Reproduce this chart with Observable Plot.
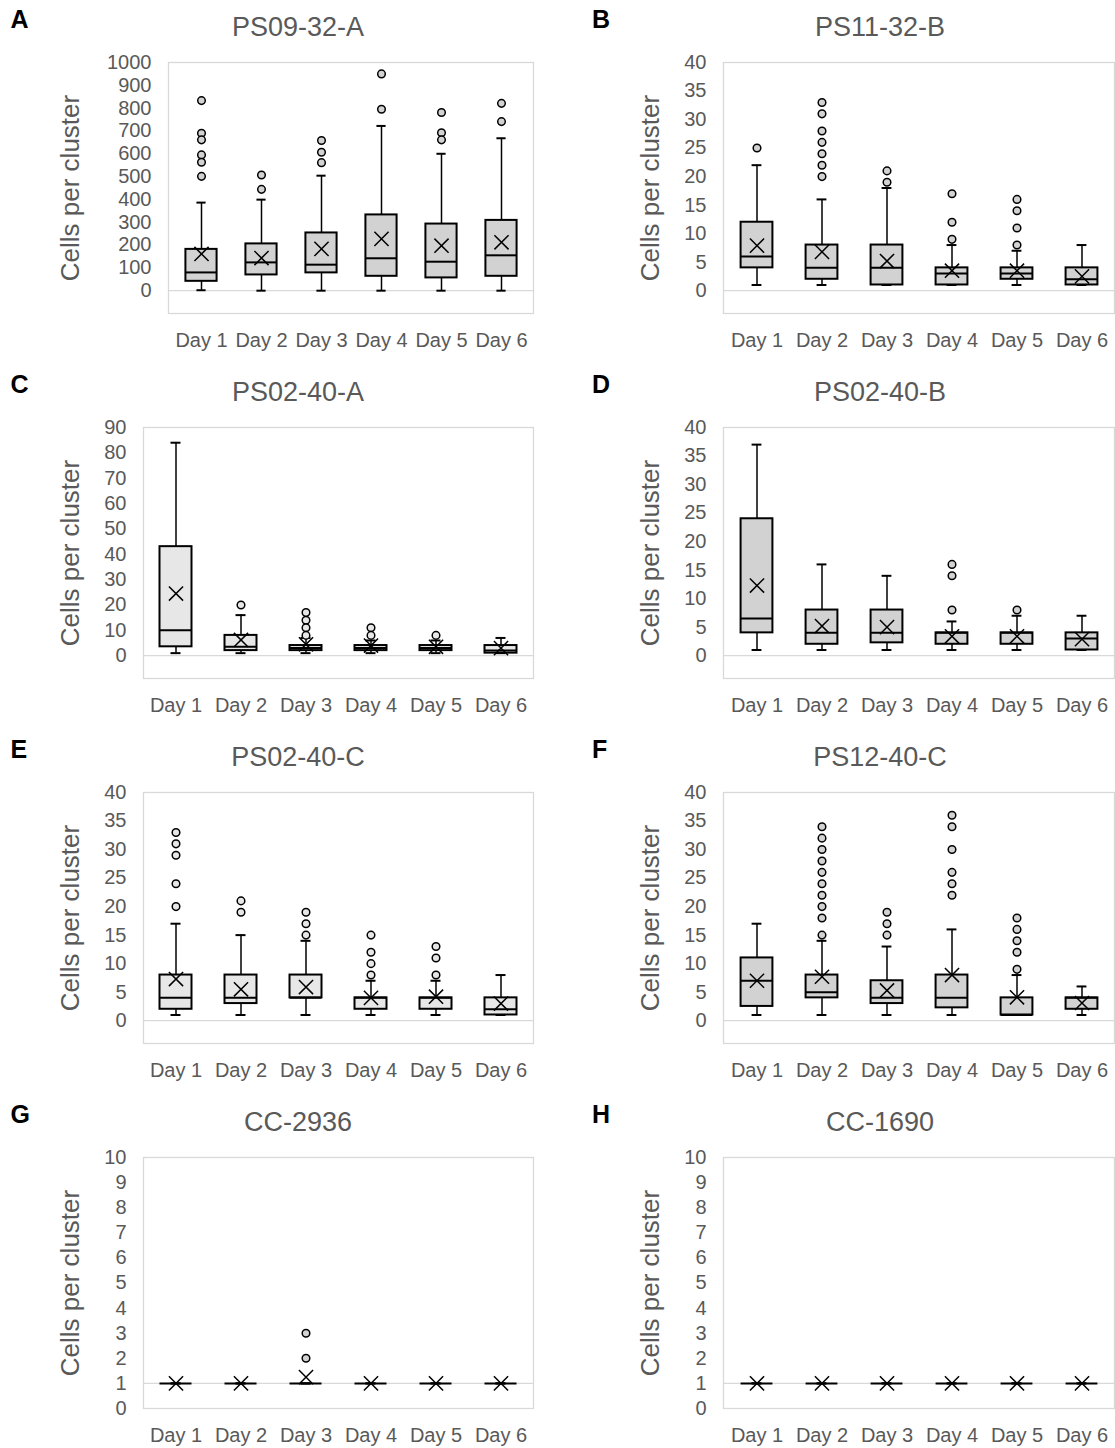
<!DOCTYPE html>
<html><head><meta charset="utf-8">
<script src="https://cdn.jsdelivr.net/npm/d3@7"></script>
<script src="https://cdn.jsdelivr.net/npm/@observablehq/plot@0.6"></script>
<style>
body{margin:0;background:#fff;}
#root{position:relative;width:1115px;height:1448px;overflow:hidden;font-family:"Liberation Sans",Arial,sans-serif;}
.letter{position:absolute;font-weight:bold;font-size:25px;color:#000;line-height:1;}
.title{position:absolute;font-size:27px;color:#595959;line-height:1;transform:translate(-50%,-50%);white-space:nowrap;}
.ylab{position:absolute;font-size:26px;color:#595959;line-height:1;transform:translate(-50%,-50%) rotate(-90deg);white-space:nowrap;}
.panel{position:absolute;}
</style></head><body><div id="root"></div>
<script>
const days = ["Day 1","Day 2","Day 3","Day 4","Day 5","Day 6"];
const panelLetters = ["A","B","C","D","E","F","G","H"];
const strains = ["PS09-32-A","PS11-32-B","PS02-40-A","PS02-40-B","PS02-40-C","PS12-40-C","CC-2936","CC-1690"];
const yLabel = "Cells per cluster";

// y-axis ranges and tick labels per panel
const yMin = [-100, -4, -9, -4, -4, -4, 0, 0];
const yMax = [1000, 40, 90, 40, 40, 40, 10, 10];
const yTicks = [
  d3.range(0, 1001, 100), d3.range(0, 41, 5), d3.range(0, 91, 10), d3.range(0, 41, 5),
  d3.range(0, 41, 5), d3.range(0, 41, 5), d3.range(0, 11, 1), d3.range(0, 11, 1)
];
const axisCross = [0, 0, 0, 0, 0, 0, 1, 1];

// box-plot statistics, one row per panel, one value per day
const whiskerLow = [
  [2, 0, 0, 0, 0, 0],
  [1, 1, 1, 1, 1, 1],
  [1, 1, 1, 1, 1, 1],
  [1, 1, 1, 1, 1, 1],
  [1, 1, 1, 1, 1, 1],
  [1, 1, 1, 1, 1, 1],
  [1, 1, 1, 1, 1, 1],
  [1, 1, 1, 1, 1, 1]
];
const q1 = [
  [41, 69, 78, 63, 56, 63],
  [4, 2, 1, 1, 2, 1],
  [3.5, 2, 2, 2, 2, 1],
  [4, 2, 2.25, 2, 2, 1],
  [2, 3, 4, 2, 2, 1],
  [2.5, 4, 3, 2.25, 1, 2],
  [1, 1, 1, 1, 1, 1],
  [1, 1, 1, 1, 1, 1]
];
const median = [
  [80, 124, 114, 142, 127, 155],
  [6, 4, 4, 3, 3, 2],
  [10, 3.5, 3, 3, 3, 2],
  [6.5, 4, 4, 4, 4, 3],
  [4, 4, 4, 4, 4, 2],
  [7, 5, 4, 4, 1, 4],
  [1, 1, 1, 1, 1, 1],
  [1, 1, 1, 1, 1, 1]
];
const q3 = [
  [181, 205, 253, 332, 292, 308],
  [12, 8, 8, 4, 4, 4],
  [43, 8, 4, 4, 4, 4],
  [24, 8, 8, 4, 4, 4],
  [8, 8, 8, 4, 4, 4],
  [11, 8, 7, 8, 4, 4],
  [1, 1, 1, 1, 1, 1],
  [1, 1, 1, 1, 1, 1]
];
const whiskerHigh = [
  [386, 399, 504, 722, 600, 668],
  [22, 16, 18, 8, 7, 8],
  [84, 16, 7, 6, 6, 7],
  [37, 16, 14, 6, 7, 7],
  [17, 15, 14, 7, 7, 8],
  [17, 14, 13, 16, 8, 6],
  [1, 1, 1, 1, 1, 1],
  [1, 1, 1, 1, 1, 1]
];
const mean = [
  [161, 143, 183, 227, 197, 212],
  [7.9, 6.8, 5.2, 3.5, 3.5, 2.5],
  [24.5, 6.2, 4.5, 4, 3.5, 3],
  [12.3, 5.2, 5, 3.4, 3.4, 2.9],
  [7.3, 5.5, 5.9, 4, 4.2, 3],
  [7, 7.7, 5.3, 8, 4.1, 3.1],
  [1, 1, 1.25, 1, 1, 1],
  [1, 1, 1, 1, 1, 1]
];
const outliers = [
  [[833, 690, 661, 595, 563, 501], [507, 444], [658, 607, 561], [950, 795], [781, 692, 661], [821, 741]],
  [[25], [33, 31, 28, 26, 24, 22, 20], [21, 19], [17, 12, 9], [16, 14, 11, 8], []],
  [[], [20], [17, 14, 11, 8], [11, 8], [8], []],
  [[], [], [], [16, 14, 8], [8], []],
  [[33, 31, 29, 24, 20], [21, 19], [19, 17, 15], [15, 12, 10, 8], [13, 11, 8], []],
  [[], [34, 32, 30, 28, 26, 24, 22, 20, 18, 15], [19, 17, 15], [36, 34, 30, 26, 24, 22], [18, 16, 14, 12, 9], []],
  [[], [], [3, 2], [], [], []],
  [[], [], [], [], [], []]
];

// styling (not data)
const lighterPanels = new Set(["C", "E"]);
const FONT = '"Liberation Sans", Arial, sans-serif';
const ROW_H = 365;

const root = document.getElementById("root");

panelLetters.forEach((letter, idx) => {
  const col = idx % 2, row = Math.floor(idx / 2);
  const oy = row * ROW_H;
  const svgLeft = col === 0 ? 0 : 557;
  const width = col === 0 ? 557 : 558;
  const marginLeft = col === 0 ? (idx === 0 ? 168 : 143) : 166;
  const marginRight = col === 0 ? 24 : 1;
  const step = (width - marginLeft - marginRight) / days.length;
  const boxInset = (step - 32) / 2;
  const capInset = (step - 10) / 2;
  const fill = lighterPanels.has(letter) ? "#e7e7e7" : "#d2d2d2";

  const rows = days.map((d, i) => ({
    day: d, lo: whiskerLow[idx][i], q1: q1[idx][i], med: median[idx][i],
    q3: q3[idx][i], hi: whiskerHigh[idx][i], mean: mean[idx][i]
  }));
  const outs = days.flatMap((d, i) => outliers[idx][i].map(v => ({day: d, v})));

  const chart = Plot.plot({
    width, height: 320,
    marginTop: 22, marginBottom: 47, marginLeft, marginRight,
    style: {fontFamily: FONT, fontSize: "20px", color: "#595959", background: "transparent", overflow: "visible"},
    x: {domain: days, padding: 0, label: null},
    y: {domain: [yMin[idx], yMax[idx]], label: null},
    marks: [
      Plot.frame({stroke: "#d9d9d9", strokeWidth: 1.3}),
      Plot.ruleY([axisCross[idx]], {stroke: "#d9d9d9", strokeWidth: 1.3}),
      Plot.axisY({ticks: yTicks[idx], tickSize: 0, tickPadding: 17, label: null, tickFormat: d => `${d}`}),
      Plot.axisX({tickSize: 0, tickPadding: 19, label: null}),
      Plot.ruleX(rows, {x: "day", y1: "lo", y2: "hi", stroke: "#000", strokeWidth: 1.5}),
      Plot.tickY(rows, {x: "day", y: "lo", insetLeft: capInset, insetRight: capInset, stroke: "#000", strokeWidth: 2}),
      Plot.tickY(rows, {x: "day", y: "hi", insetLeft: capInset, insetRight: capInset, stroke: "#000", strokeWidth: 2}),
      Plot.barY(rows, {x: "day", y1: "q1", y2: "q3", insetLeft: boxInset, insetRight: boxInset, fill, stroke: "#000", strokeWidth: 2}),
      Plot.tickY(rows, {x: "day", y: "med", insetLeft: boxInset, insetRight: boxInset, stroke: "#000", strokeWidth: 2}),
      Plot.dot(outs, {x: "day", y: "v", r: 3.8, fill, stroke: "#000", strokeWidth: 1.5}),
      Plot.dot(rows, {x: "day", y: "mean", symbol: "times", r: 6.5, stroke: "#000", strokeWidth: 1.5})
    ]
  });
  chart.classList.add("panel");
  chart.style.left = svgLeft + "px";
  chart.style.top = (40 + oy) + "px";
  root.appendChild(chart);

  const L = document.createElement("div");
  L.className = "letter";
  L.textContent = letter;
  L.style.left = (col === 0 ? 10.5 : 592) + "px";
  L.style.top = (6.7 + oy) + "px";
  root.appendChild(L);

  const T = document.createElement("div");
  T.className = "title";
  T.textContent = strains[idx];
  T.style.left = (col === 0 ? 298 : 880) + "px";
  T.style.top = (26.5 + oy) + "px";
  root.appendChild(T);

  const Y = document.createElement("div");
  Y.className = "ylab";
  Y.textContent = yLabel;
  Y.style.left = (col === 0 ? 69.6 : 649.6) + "px";
  Y.style.top = (187.5 + oy) + "px";
  root.appendChild(Y);
});
</script></body></html>
